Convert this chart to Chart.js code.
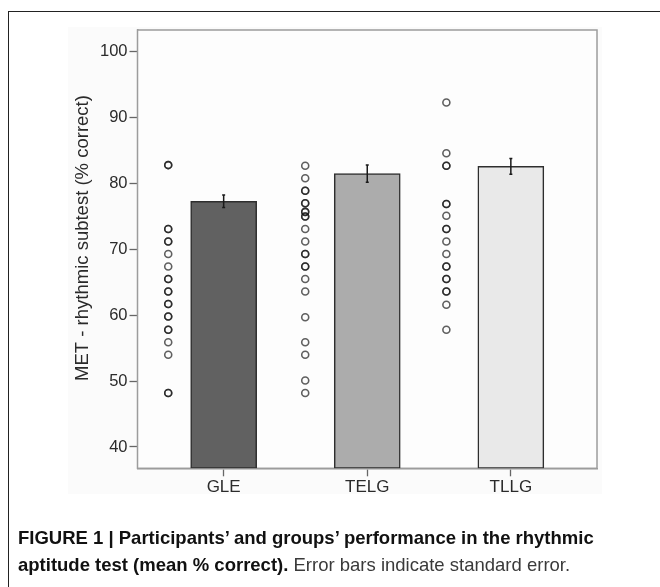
<!DOCTYPE html>
<html>
<head>
<meta charset="utf-8">
<script src="https://cdn.jsdelivr.net/npm/chart.js@4.4.1/dist/chart.umd.min.js"></script>
<style>
  html, body { margin: 0; padding: 0; background: #fff; }
  #wrap { position: relative; width: 660px; height: 587px; overflow: hidden; }
  #frame { position: absolute; left: 8px; top: 11px; width: 700px; height: 700px; border-left: 1.5px solid #222; border-top: 1.5px solid #222; }
  #panel { position: absolute; left: 68px; top: 27px; width: 534px; height: 467px; background: #fbfbfb; }
  #chart-box { position: absolute; left: 0; top: 0; width: 660px; height: 587px; }
  #caption { position: absolute; left: 18px; top: 524px; width: 640px; white-space: nowrap;
    font-family: "Liberation Sans", Arial, sans-serif; font-size: 18.5px; line-height: 27px; color: #111; }
  #caption b { font-weight: 700; }
  #caption .n { color: #3a3a3a; }
</style>
</head>
<body>
<div id="wrap">
  <div id="frame"></div>
  <div id="panel"></div>
  <div id="chart-box"><canvas id="chart"></canvas></div>
  <div id="caption"><b>FIGURE 1 | Participants’ and groups’ performance in the rhythmic</b><br><b>aptitude test (mean % correct).</b> <span class="n">Error bars indicate standard error.</span></div>
</div>
<script>
const groups     = ['GLE', 'TELG', 'TLLG']
const groupMeans = [77.3, 81.5, 82.6]
const groupSE    = [0.95, 1.3, 1.2]
const barColors  = ['#616161', '#acacac', '#e9e9e9']

// individual participants (repeated values = overlapping circles)
const gleScores  = [82.8, 82.8, 73.1, 73.1, 71.2, 71.2, 69.3, 67.4, 65.5, 65.5, 63.6, 63.6,
                    61.7, 61.7, 59.8, 59.8, 57.8, 57.8, 55.9, 54.0, 48.2, 48.2]
const telgScores = [82.7, 80.8, 78.9, 78.9, 77.0, 77.0, 75.7, 75.7, 75.0, 75.0, 73.1, 71.2,
                    69.3, 69.3, 67.4, 67.4, 65.5, 63.6, 59.7, 55.9, 54.0, 50.1, 48.2]
const tllgScores = [92.3, 84.6, 82.7, 82.7, 76.9, 76.9, 75.1, 73.1, 73.1, 71.2, 69.3,
                    67.4, 67.4, 65.5, 65.5, 63.6, 63.6, 61.6, 57.8]
const dotOffset  = [-0.386, -0.432, -0.449]

const yTicks = [40, 50, 60, 70, 80, 90, 100]
const Y_MIN = 36.76, Y_MAX = 103.31
const yTitle = 'MET - rhythmic subtest (% correct)'

const FONT = 'Liberation Sans'

const plotFrame = {
  id: 'plotFrame',
  beforeDatasetsDraw(chart) {
    const { ctx, chartArea: a } = chart
    ctx.save()
    ctx.fillStyle = '#fdfdfd'
    ctx.fillRect(a.left, a.top, a.right - a.left, a.bottom - a.top)
    ctx.strokeStyle = '#9c9c9c'
    ctx.lineWidth = 1.5
    ctx.strokeRect(a.left, a.top, a.right - a.left, a.bottom - a.top)
    ctx.restore()
  }
}

const errorBars = {
  id: 'errorBars',
  afterDatasetsDraw(chart) {
    const { ctx, scales: { x, y } } = chart
    ctx.save()
    ctx.strokeStyle = '#1a1a1a'
    ctx.lineWidth = 1.5
    groupMeans.forEach((m, i) => {
      const px  = x.getPixelForValue(i + 1)
      const top = y.getPixelForValue(m + groupSE[i])
      const bot = y.getPixelForValue(m - groupSE[i])
      ctx.beginPath()
      ctx.moveTo(px, top); ctx.lineTo(px, bot)
      ctx.moveTo(px - 1.5, top); ctx.lineTo(px + 1.5, top)
      ctx.moveTo(px - 1.5, bot); ctx.lineTo(px + 1.5, bot)
      ctx.stroke()
    })
    ctx.restore()
  }
}

const yAxisTitle = {
  id: 'yAxisTitle',
  afterDraw(chart) {
    const { ctx } = chart
    ctx.save()
    ctx.translate(83, 238)
    ctx.rotate(-Math.PI / 2)
    ctx.font = `18.5px "${FONT}"`
    ctx.fillStyle = '#2a2a2a'
    ctx.textAlign = 'center'
    ctx.textBaseline = 'middle'
    ctx.fillText(yTitle, 0, 0)
    ctx.restore()
  }
}

const dotStyle = {
  type: 'scatter',
  pointRadius: 3.5,
  pointBorderWidth: 1.6,
  pointBackgroundColor: 'rgba(0,0,0,0)',
  pointBorderColor: 'rgba(20,20,20,0.68)',
  order: 1,
}

new Chart(document.getElementById('chart'), {
  type: 'bar',
  data: {
    datasets: [
      {
        type: 'bar',
        data: groupMeans.map((m, i) => ({ x: i + 1, y: m })),
        backgroundColor: barColors,
        borderColor: '#2e2e2e',
        borderWidth: 1.5,
        borderSkipped: false,
        barThickness: 66,
        base: Y_MIN,
        order: 2,
      },
      { ...dotStyle, data: gleScores.map(v => ({ x: 1 + dotOffset[0], y: v })) },
      { ...dotStyle, data: telgScores.map(v => ({ x: 2 + dotOffset[1], y: v })) },
      { ...dotStyle, data: tllgScores.map(v => ({ x: 3 + dotOffset[2], y: v })) },
    ],
  },
  options: {
    responsive: true,
    maintainAspectRatio: false,
    animation: false,
    layout: { padding: { top: 30, right: 63, left: 0, bottom: 86.7 } },
    plugins: { legend: { display: false }, tooltip: { enabled: false } },
    scales: {
      x: {
        type: 'linear',
        min: 0.4, max: 3.6,
        offset: false,
        afterBuildTicks: s => { s.ticks = groups.map((g, i) => ({ value: i + 1 })) },
        afterFit: s => { s.height = 32 },
        ticks: {
          callback: v => groups[v - 1],
          color: '#2b2b2b',
          font: { family: FONT, size: 17 },
          padding: 1,
          maxRotation: 0,
        },
        grid: { offset: false, drawOnChartArea: false, tickLength: 8, tickColor: '#666', tickWidth: 1.3 },
        border: { color: '#9c9c9c', width: 1.5 },
      },
      y: {
        min: Y_MIN, max: Y_MAX,
        afterBuildTicks: s => { s.ticks = yTicks.map(v => ({ value: v })) },
        afterFit: s => { s.width = 137.5 },
        ticks: {
          color: '#2b2b2b',
          font: { family: FONT, size: 16.5 },
          padding: 2,
        },
        grid: { drawOnChartArea: false, tickLength: 8, tickColor: '#666', tickWidth: 1.3 },
        border: { color: '#9c9c9c', width: 1.5 },
      },
    },
  },
  plugins: [plotFrame, errorBars, yAxisTitle],
})
</script>
</body>
</html>
